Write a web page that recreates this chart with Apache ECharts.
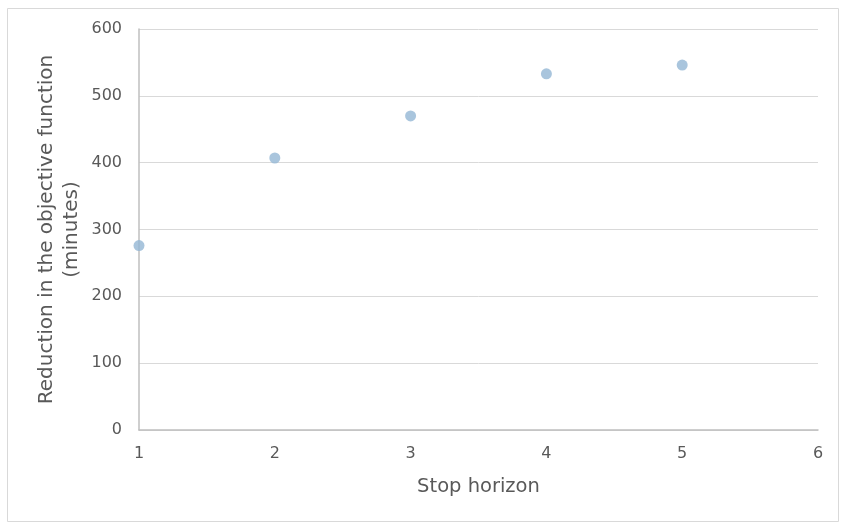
<!DOCTYPE html>
<html>
<head>
<meta charset="utf-8">
<script src="https://cdn.jsdelivr.net/npm/echarts@6/dist/echarts.min.js"></script>
<style>
html,body{margin:0;padding:0;background:#fff;}
#c{width:842px;height:526px;}
</style>
</head>
<body>
<div id="c"></div>
<script>
const stopHorizon = [1, 2, 3, 4, 5];
const reduction = [276, 407, 470, 533, 546];
const xTicks = [1, 2, 3, 4, 5, 6];
const yTicks = [0, 100, 200, 300, 400, 500, 600];
const xName = 'Stop horizon';
const yName = 'Reduction in the objective function\n(minutes)';

const chart = echarts.init(document.getElementById('c'), null, {renderer: 'canvas'});
const font = '"DejaVu Sans", Verdana, sans-serif';
chart.setOption({
  animation: false,
  backgroundColor: '#fff',
  graphic: [{
    type: 'rect', left: 5, top: 6, shape: {width: 831, height: 513},
    style: {fill: 'none', stroke: '#d9d9d9', lineWidth: 1}
  }],
  grid: {left: 139, right: 24, top: 29, bottom: 96, containLabel: false},
  xAxis: {
    type: 'value', min: xTicks[0], max: xTicks[xTicks.length - 1], interval: 1,
    name: xName, nameLocation: 'middle', nameGap: 47, nameMoveOverlap: false,
    nameTextStyle: {color: '#595959', fontSize: 19.5, fontFamily: font},
    axisLine: {show: true, lineStyle: {color: '#bfbfbf', width: 1.5}},
    axisTick: {show: false},
    splitLine: {show: false},
    axisLabel: {color: '#595959', fontSize: 16, fontFamily: font, margin: 16}
  },
  yAxis: {
    type: 'value', min: yTicks[0], max: yTicks[yTicks.length - 1], interval: 100,
    name: yName, nameLocation: 'middle', nameGap: 55, nameMoveOverlap: false,
    nameTextStyle: {color: '#595959', fontSize: 20, fontFamily: font, lineHeight: 25},
    axisLine: {show: true, lineStyle: {color: '#bfbfbf', width: 1.5}},
    axisTick: {show: false},
    splitLine: {show: true, lineStyle: {color: '#d9d9d9', width: 1}},
    axisLabel: {color: '#595959', fontSize: 16, fontFamily: font, margin: 17}
  },
  series: [{
    type: 'scatter',
    data: stopHorizon.map((x, i) => [x, reduction[i]]),
    symbol: 'circle',
    symbolSize: 11,
    itemStyle: {color: '#94b6d4'}
  }]
});
</script>
</body>
</html>
